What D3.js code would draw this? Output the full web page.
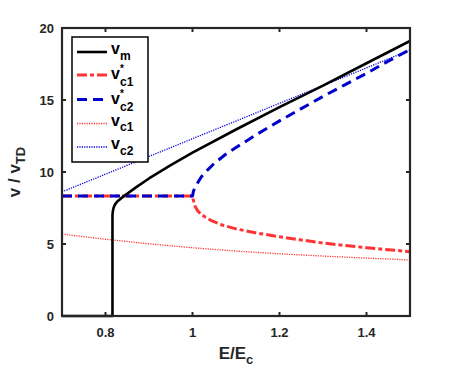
<!DOCTYPE html>
<html>
<head>
<meta charset="utf-8">
<script src="https://cdn.jsdelivr.net/npm/d3@7"></script>
<style>
  body { margin: 0; background: #fff; }
  text { font-family: "Liberation Sans", Arial, sans-serif; font-weight: bold; fill: #262626; }
</style>
</head>
<body>
<svg id="chart" width="454" height="370"></svg>
<script>
// values
const vmX = [0.7, 0.75, 0.8, 0.816, 0.816, 0.817, 0.819, 0.822, 0.827, 0.835, 0.845, 0.87, 0.9, 0.95, 1.0, 1.1, 1.2, 1.3, 1.4, 1.5];
const vmY = [0, 0, 0, 0, 7.0, 7.3, 7.55, 7.75, 7.95, 8.15, 8.38, 8.93, 9.55, 10.48, 11.35, 12.95, 14.5, 16.0, 17.55, 19.1];

const c1sX = [0.7, 0.8, 0.9, 1.0, 1.002, 1.006, 1.012, 1.02, 1.03, 1.045, 1.07, 1.1, 1.15, 1.2, 1.25, 1.3, 1.35, 1.4, 1.45, 1.5];
const c1sY = [8.33, 8.33, 8.33, 8.33, 8.05, 7.6, 7.3, 7.05, 6.85, 6.6, 6.3, 6.05, 5.75, 5.5, 5.28, 5.07, 4.9, 4.74, 4.6, 4.47];

const c2sX = [0.7, 0.8, 0.9, 1.0, 1.002, 1.006, 1.012, 1.02, 1.035, 1.05, 1.075, 1.1, 1.15, 1.2, 1.25, 1.3, 1.35, 1.4, 1.45, 1.5];
const c2sY = [8.33, 8.33, 8.33, 8.33, 8.65, 8.95, 9.25, 9.65, 10.15, 10.6, 11.2, 11.7, 12.65, 13.55, 14.4, 15.25, 16.05, 16.85, 17.7, 18.5];

const c1X = [0.7, 0.8, 0.9, 1.0, 1.1, 1.2, 1.3, 1.4, 1.5];
const c1Y = [5.69, 5.33, 5.01, 4.74, 4.51, 4.32, 4.16, 4.02, 3.89];

const c2X = [0.7, 0.8, 0.9, 1.0, 1.1, 1.2, 1.3, 1.4, 1.5];
const c2Y = [8.62, 9.85, 11.08, 12.31, 13.54, 14.77, 16.0, 17.23, 18.47];

const xTicks = [0.8, 1, 1.2, 1.4];
const xTickLabels = ["0.8", "1", "1.2", "1.4"];
const yTicks = [0, 5, 10, 15, 20];

const seriesNames = [["v", "m", ""], ["v", "c1", "*"], ["v", "c2", "*"], ["v", "c1", ""], ["v", "c2", ""]];

const svg = d3.select("#chart");
const pLeft = 62, pRight = 410, pTop = 28, pBottom = 316;

const x = d3.scaleLinear().domain([0.7, 1.5]).range([pLeft, pRight]);
const y = d3.scaleLinear().domain([0, 20]).range([pBottom, pTop]);

svg.append("defs").append("clipPath").attr("id", "plotclip")
  .append("rect").attr("x", pLeft).attr("y", pTop - 2).attr("width", pRight - pLeft).attr("height", pBottom - pTop + 4);

const line = d3.line().x(d => x(d[0])).y(d => y(d[1]));
const zip = (a, b) => a.map((v, i) => [v, b[i]]);

const styles = [
  { data: zip(vmX, vmY), color: "#000000", width: 2.6, dash: null },
  { data: zip(c1sX, c1sY), color: "#ff3333", width: 3, dash: "10,3,4,3" },
  { data: zip(c2sX, c2sY), color: "#0000cc", width: 3, dash: "10,6" },
  { data: zip(c1X, c1Y), color: "#ff3333", width: 1.3, dash: "1.2,1.2" },
  { data: zip(c2X, c2Y), color: "#0000dd", width: 1.3, dash: "1.2,1.2" }
];

const g = svg.append("g").attr("clip-path", "url(#plotclip)");
// draw order: dotted first, then red dash-dot, blue dashed, black on top
[3, 4, 1, 2, 0].forEach(i => {
  const s = styles[i];
  g.append("path")
    .attr("d", line(s.data))
    .attr("fill", "none")
    .attr("stroke", s.color)
    .attr("stroke-width", s.width)
    .attr("stroke-dasharray", s.dash)
    .attr("stroke-linejoin", "round");
});

// axes frame with inward ticks
const frame = svg.append("g");
const axisColor = "#262626";
xTicks.forEach(t => {
  frame.append("line").attr("x1", x(t)).attr("x2", x(t)).attr("y1", pBottom).attr("y2", pBottom - 4)
    .attr("stroke", axisColor).attr("stroke-width", 2);
  frame.append("line").attr("x1", x(t)).attr("x2", x(t)).attr("y1", pTop).attr("y2", pTop + 4)
    .attr("stroke", axisColor).attr("stroke-width", 2);
});
yTicks.forEach(t => {
  frame.append("line").attr("x1", pLeft).attr("x2", pLeft + 4).attr("y1", y(t)).attr("y2", y(t))
    .attr("stroke", axisColor).attr("stroke-width", 2);
  frame.append("line").attr("x1", pRight).attr("x2", pRight - 4).attr("y1", y(t)).attr("y2", y(t))
    .attr("stroke", axisColor).attr("stroke-width", 2);
});
frame.append("rect").attr("x", pLeft).attr("y", pTop).attr("width", pRight - pLeft).attr("height", pBottom - pTop)
  .attr("fill", "none").attr("stroke", axisColor).attr("stroke-width", 2.2);

// tick labels
svg.append("g").selectAll("text").data(xTicks).join("text")
  .attr("x", d => x(d)).attr("y", 337).attr("text-anchor", "middle")
  .style("font-size", "13px").text((d, i) => xTickLabels[i]);
svg.append("g").selectAll("text").data(yTicks).join("text")
  .attr("x", 54).attr("y", d => y(d) + 5).attr("text-anchor", "end")
  .style("font-size", "13px").text(d => d);

// axis labels
const xl = svg.append("text").attr("x", 236).attr("y", 359).attr("text-anchor", "middle").style("font-size", "17px");
xl.append("tspan").text("E/E");
xl.append("tspan").attr("dy", 5).style("font-size", "13px").text("c");

const yl = svg.append("text").attr("transform", "translate(20,172) rotate(-90)").attr("text-anchor", "middle").style("font-size", "17px");
yl.append("tspan").text("v / v");
yl.append("tspan").attr("dy", 5).style("font-size", "13px").text("TD");

// legend
const lg = svg.append("g");
lg.append("rect").attr("x", 72).attr("y", 37).attr("width", 76).attr("height", 125)
  .attr("fill", "#fff").attr("stroke", "#000").attr("stroke-width", 1.5);
const rowY = [52, 75, 99.5, 123.5, 147];
seriesNames.forEach((n, i) => {
  const s = styles[i];
  const ry = rowY[i];
  lg.append("line").attr("x1", 77).attr("x2", 107).attr("y1", ry).attr("y2", ry)
    .attr("stroke", s.color).attr("stroke-width", s.width).attr("stroke-dasharray", s.dash);
  const starred = n[2] !== "";
  lg.append("text").attr("x", 111).attr("y", ry + (starred ? 4 : 2))
    .style("font-size", "16px").style("fill", "#000").text(n[0]);
  if (starred) {
    lg.append("text").attr("x", 120).attr("y", ry - 3)
      .style("font-size", "10px").style("fill", "#000").text(n[2]);
  }
  lg.append("text").attr("x", 120).attr("y", ry + (starred ? 11 : 7.5))
    .style("font-size", "12px").style("fill", "#000").text(n[1]);
});
</script>
</body>
</html>
